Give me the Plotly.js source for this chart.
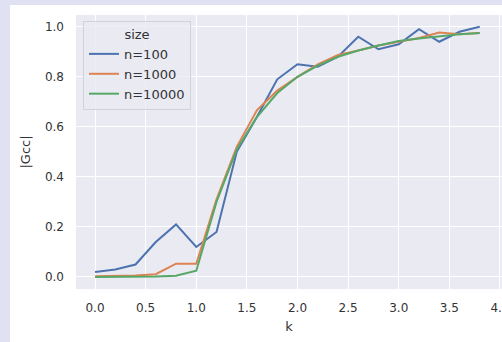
<!DOCTYPE html>
<html>
<head>
<meta charset="utf-8">
<script src="https://cdn.plot.ly/plotly-3.0.1.min.js"></script>
<style>
html,body{margin:0;padding:0;width:502px;height:342px;overflow:hidden;background:#e0e2f4;}
#chart{position:absolute;left:10px;top:5px;width:492px;height:337px;background:#ffffff;}
</style>
</head>
<body>
<div id="chart"></div>
<script>
const k = [0.0,0.2,0.4,0.6,0.8,1.0,1.2,1.4,1.6,1.8,2.0,2.2,2.4,2.6,2.8,3.0,3.2,3.4,3.6,3.8];
const n100 = [0.02,0.03,0.05,0.14,0.21,0.12,0.18,0.50,0.64,0.79,0.85,0.84,0.88,0.96,0.91,0.93,0.99,0.94,0.98,1.00];
const n1000 = [0.003,0.004,0.006,0.011,0.053,0.053,0.31,0.52,0.667,0.745,0.80,0.85,0.887,0.905,0.925,0.94,0.955,0.977,0.97,0.975];
const n10000 = [0.0,0.0,0.001,0.002,0.005,0.025,0.30,0.51,0.64,0.735,0.80,0.845,0.88,0.905,0.925,0.943,0.953,0.962,0.97,0.975];
const seriesNames = ["n=100","n=1000","n=10000"];
const seriesColors = ["#4c72b0","#dd8452","#55a868"];
const xTicks = [0,0.5,1,1.5,2,2.5,3,3.5,4];
const xTickText = ["0.0","0.5","1.0","1.5","2.0","2.5","3.0","3.5","4.0"];
const yTicks = [0,0.2,0.4,0.6,0.8,1.0];
const yTickText = ["0.0","0.2","0.4","0.6","0.8","1.0"];

const ys = [n100, n1000, n10000];
const data = ys.map((y,i)=>({
  x: k, y: y, type: "scatter", mode: "lines", name: seriesNames[i],
  line: {color: seriesColors[i], width: 2}
}));

const font = "DejaVu Sans, sans-serif";
const layout = {
  width: 492, height: 337,
  margin: {l: 66, r: 0, t: 10, b: 52.7, pad: 0},
  paper_bgcolor: "#ffffff",
  plot_bgcolor: "#eaeaf2",
  font: {family: font, size: 12, color: "#333333"},
  showlegend: true,
  xaxis: {
    range: [-0.188, 4.02],
    tickvals: xTicks, ticktext: xTickText,
    showgrid: true, gridcolor: "#ffffff", gridwidth: 1,
    zeroline: false, showline: false, ticks: "",
    ticklabelstandoff: 10,
    ticklabeloverflow: "allow",
    automargin: false,
    tickfont: {family: font, size: 12, color: "#333333"},
    title: {text: "k", font: {family: font, size: 13, color: "#333333"}, standoff: 7}
  },
  yaxis: {
    range: [-0.048, 1.047],
    tickvals: yTicks, ticktext: yTickText,
    showgrid: true, gridcolor: "#ffffff", gridwidth: 1,
    zeroline: false, showline: false, ticks: "",
    ticklabelstandoff: 11,
    automargin: false,
    tickfont: {family: font, size: 12, color: "#333333"},
    title: {text: "|Gcc|", font: {family: font, size: 13, color: "#333333"}, standoff: 11}
  },
  legend: {
    x: 0.0164, y: 0.978, xanchor: "left", yanchor: "top",
    bgcolor: "rgba(234,234,242,0.8)",
    bordercolor: "#d2d2da", borderwidth: 1,
    font: {family: font, size: 13, color: "#333333"},
    title: {text: "size", side: "top center", font: {family: font, size: 13, color: "#333333"}}
  }
};
Plotly.newPlot("chart", data, layout, {displayModeBar: false, staticPlot: true});
</script>
</body>
</html>
